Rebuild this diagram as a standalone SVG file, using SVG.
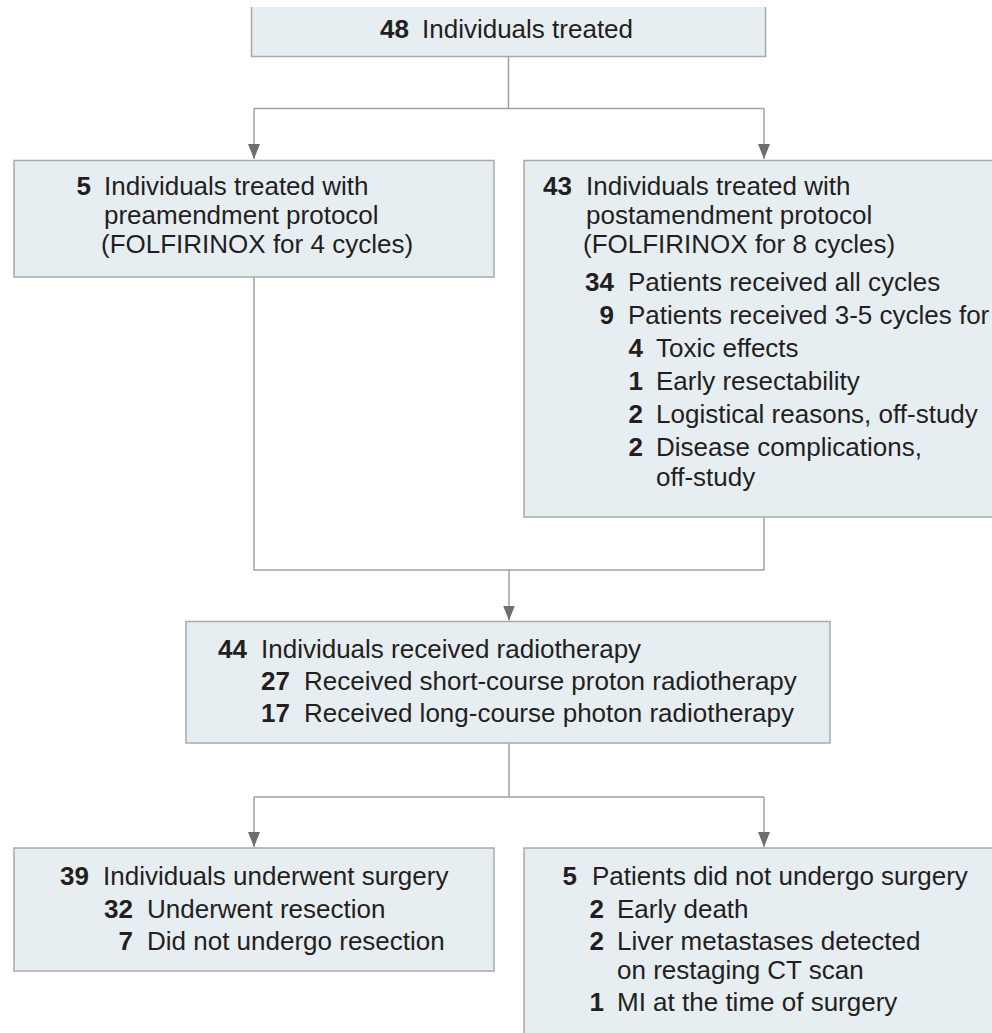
<svg xmlns="http://www.w3.org/2000/svg" width="992" height="1033" viewBox="0 0 992 1033">
<defs>
<style>
.box{fill:#e7eef2;stroke:#a7a9ac;stroke-width:1.5}
.fill{fill:#e7eef2}
.edge{fill:none;stroke:#a7a9ac;stroke-width:1.5}
.con{fill:none;stroke:#a0a2a5;stroke-width:1.5}
text{font-family:"Liberation Sans",Arial,sans-serif;font-size:26px;fill:#231f20}
.n{font-weight:bold;text-anchor:end}
</style>
<marker id="arr" viewBox="0 0 15 12" refX="15" refY="6" markerWidth="15" markerHeight="12" markerUnits="userSpaceOnUse" orient="auto">
<path d="M0 0 L15 6 L0 12 Z" fill="#6d6e71"/>
</marker>
</defs>
<g id="connectors">
<path class="con" d="M508.5 57 V108.5 M254 108.5 H764"/>
<path class="con" d="M254 108.5 V159" marker-end="url(#arr)"/>
<path class="con" d="M764 108.5 V159" marker-end="url(#arr)"/>
<path class="con" d="M254 277 V570 H764 V517"/>
<path class="con" d="M509 570 V620.5" marker-end="url(#arr)"/>
<path class="con" d="M509 743 V797 M254 797 H764"/>
<path class="con" d="M254 797 V847" marker-end="url(#arr)"/>
<path class="con" d="M764 797 V847" marker-end="url(#arr)"/>
</g>
<g id="node-treated">
<rect class="fill" x="251.5" y="7" width="514" height="50"/>
<path class="edge" d="M251.5 7 V56.5 H765.5 V7"/>
<text x="409" y="38" class="n">48</text>
<text x="422" y="38">Individuals treated</text>
</g>
<g id="node-pre">
<rect class="box" x="14" y="160.5" width="480" height="116.5"/>
<text x="91" y="195" class="n">5</text>
<text x="104" y="195">Individuals treated with</text>
<text x="104" y="224">preamendment protocol</text>
<text x="101" y="253">(FOLFIRINOX for 4 cycles)</text>
</g>
<g id="node-post">
<rect class="fill" x="524" y="160.5" width="470" height="356.5"/>
<path class="edge" d="M994 160.5 H524 V517 H994"/>
<text x="572" y="195" class="n">43</text>
<text x="586" y="195">Individuals treated with</text>
<text x="586" y="224">postamendment protocol</text>
<text x="583" y="253">(FOLFIRINOX for 8 cycles)</text>
<text x="614" y="291" class="n">34</text>
<text x="628" y="291">Patients received all cycles</text>
<text x="614" y="324" class="n">9</text>
<text x="628" y="324">Patients received 3-5 cycles for</text>
<text x="643" y="357" class="n">4</text>
<text x="656" y="357">Toxic effects</text>
<text x="643" y="390" class="n">1</text>
<text x="656" y="390">Early resectability</text>
<text x="643" y="423" class="n">2</text>
<text x="656" y="423">Logistical reasons, off-study</text>
<text x="643" y="456" class="n">2</text>
<text x="656" y="456">Disease complications,</text>
<text x="656" y="486">off-study</text>
</g>
<g id="node-radio">
<rect class="box" x="186" y="621.5" width="644" height="121.5"/>
<text x="247" y="658" class="n">44</text>
<text x="261" y="658">Individuals received radiotherapy</text>
<text x="290" y="690" class="n">27</text>
<text x="304" y="690">Received short-course proton radiotherapy</text>
<text x="290" y="722" class="n">17</text>
<text x="304" y="722">Received long-course photon radiotherapy</text>
</g>
<g id="node-surgery">
<rect class="box" x="14" y="848" width="480" height="123"/>
<text x="89" y="885" class="n">39</text>
<text x="103" y="885">Individuals underwent surgery</text>
<text x="133" y="918" class="n">32</text>
<text x="147" y="918">Underwent resection</text>
<text x="133" y="950" class="n">7</text>
<text x="147" y="950">Did not undergo resection</text>
</g>
<g id="node-nosurgery">
<rect class="fill" x="524" y="848" width="470" height="190"/>
<path class="edge" d="M994 848 H524 V1038"/>
<text x="577" y="885" class="n">5</text>
<text x="592" y="885">Patients did not undergo surgery</text>
<text x="604" y="918" class="n">2</text>
<text x="617" y="918">Early death</text>
<text x="604" y="950" class="n">2</text>
<text x="617" y="950">Liver metastases detected</text>
<text x="617" y="979">on restaging CT scan</text>
<text x="604" y="1011" class="n">1</text>
<text x="617" y="1011">MI at the time of surgery</text>
</g>
</svg>
